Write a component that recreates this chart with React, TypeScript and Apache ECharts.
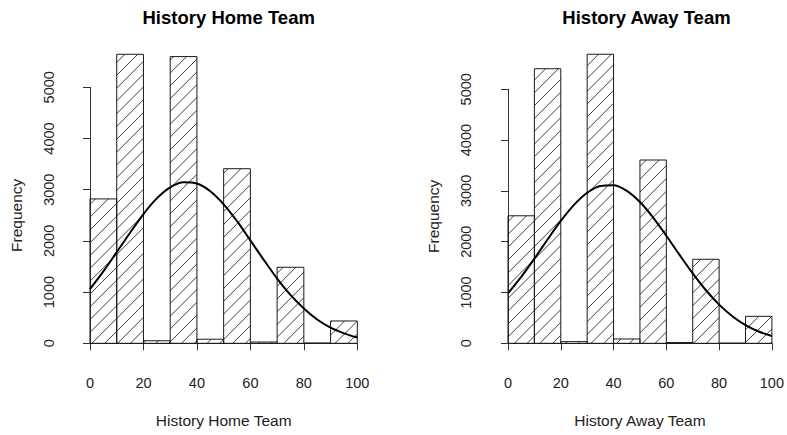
import React, { useEffect, useRef } from "react";
import * as echarts from "echarts";

// Histogram bins (width 10) shared by both panels
const binStarts = [0, 10, 20, 30, 40, 50, 60, 70, 80, 90];
const binWidth = 10;

// Bin counts
const homeCounts = [2820, 5645, 50, 5600, 80, 3410, 25, 1485, 5, 436];
const awayCounts = [2510, 5405, 33, 5690, 85, 3608, 15, 1654, 3, 531];

// Fitted normal curve, sampled every 5 points
const curveX = [0, 5, 10, 15, 20, 25, 30, 35, 40, 45, 50, 55, 60, 65, 70, 75, 80, 85, 90, 95, 100];
const homeCurve = [1060, 1405, 1780, 2160, 2525, 2830, 3045, 3145, 3120, 2970, 2715, 2385, 2010, 1630, 1265, 945, 680, 465, 305, 195, 112];
const awayCurve = [983, 1306, 1666, 2044, 2408, 2725, 2964, 3098, 3110, 3000, 2781, 2476, 2118, 1741, 1375, 1044, 761, 533, 359, 232, 144];

const titles = ["History Home Team", "History Away Team"];
const yTitle = "Frequency";

const FONT = "'Liberation Sans', Arial, Helvetica, sans-serif";
const INK = "#1a1a1a";

// panel layout: grid spans the 0..100 x 0..5000 data box
const layout = [
  { left: 90, top: 87.3, width: 267.3, height: 256, yOffset: 10, center: 223.7 },
  { left: 508, top: 89.3, width: 267, height: 254, yOffset: 10.7, center: 641.5 },
];

const HATCH_STEP = 12.8;

function hatchedBar(params: any, api: any) {
  const x0 = api.value(0);
  const x1 = api.value(1);
  const h = api.value(2);
  const pTop = api.coord([x0, h]);
  const pBot = api.coord([x1, 0]);
  const L = pTop[0];
  const T = pTop[1];
  const R = pBot[0];
  const B = pBot[1];
  const children: any[] = [];
  // 45-degree hatch lines: x + y = c
  const cStart = Math.ceil((L + T) / HATCH_STEP) * HATCH_STEP;
  for (let c = cStart; c <= R + B; c += HATCH_STEP) {
    const xa = Math.max(L, c - B);
    const xb = Math.min(R, c - T);
    if (xb - xa > 0.2) {
      children.push({
        type: "line",
        shape: { x1: xa, y1: c - xa, x2: xb, y2: c - xb },
        style: { stroke: "#2a2a2a", lineWidth: 0.9 },
      });
    }
  }
  children.push({
    type: "rect",
    shape: { x: L, y: T, width: R - L, height: B - T },
    style: { fill: "none", stroke: INK, lineWidth: 1 },
  });
  return { type: "group", children };
}

export default function App() {
  const ref = useRef<HTMLDivElement>(null);

  useEffect(() => {
    if (!ref.current) return;
    const chart = echarts.init(ref.current, undefined, { renderer: "svg" });
    const countsList = [homeCounts, awayCounts];
    const curves = [homeCurve, awayCurve];

    const option: any = {
      animation: false,
      backgroundColor: "#ffffff",
      textStyle: { fontFamily: FONT },
      title: layout.map((g, i) => ({
        text: titles[i],
        left: g.center,
        top: 3,
        textAlign: "center",
        textStyle: { fontFamily: FONT, fontSize: 18.5, fontWeight: "bold", color: "#000" },
      })),
      grid: layout.map((g) => ({ left: g.left, top: g.top, width: g.width, height: g.height })),
      xAxis: layout.map((g, i) => ({
        type: "value",
        gridIndex: i,
        min: 0,
        max: 100,
        interval: 20,
        offset: 12,
        position: "bottom",
        name: titles[i],
        nameLocation: "middle",
        nameGap: 57,
        nameTextStyle: { fontFamily: FONT, fontSize: 15.5, color: "#222" },
        axisLine: { show: true, lineStyle: { color: "#333", width: 1 } },
        axisTick: { show: true, length: 7, lineStyle: { color: "#333" } },
        axisLabel: { fontFamily: FONT, fontSize: 14.5, color: "#222", margin: 20 },
        splitLine: { show: false },
      })),
      yAxis: layout.map((g, i) => ({
        type: "value",
        gridIndex: i,
        min: 0,
        max: 5000,
        interval: 1000,
        offset: g.yOffset,
        name: yTitle,
        nameLocation: "middle",
        nameRotate: 90,
        nameGap: 56,
        nameTextStyle: { fontFamily: FONT, fontSize: 15.5, color: "#222" },
        axisLine: { show: true, lineStyle: { color: "#333", width: 1 } },
        axisTick: { show: true, length: 7, lineStyle: { color: "#333" } },
        axisLabel: {
          fontFamily: FONT,
          fontSize: 14.5,
          color: "#222",
          rotate: 90,
          margin: 24,
          formatter: (v: number) => String(v),
        },
        splitLine: { show: false },
      })),
      series: [
        ...countsList.map((counts, i) => ({
          type: "custom",
          xAxisIndex: i,
          yAxisIndex: i,
          clip: false,
          renderItem: hatchedBar,
          encode: { x: [0, 1], y: 2 },
          data: binStarts.map((b, k) => [b, b + binWidth, counts[k]]),
          silent: true,
        })),
        ...curves.map((vals, i) => ({
          type: "line",
          xAxisIndex: i,
          yAxisIndex: i,
          clip: false,
          smooth: 0.3,
          symbol: "none",
          lineStyle: { color: "#000", width: 2 },
          data: curveX.map((x, k) => [x, vals[k]]),
          silent: true,
        })),
      ],
    };
    chart.setOption(option);
    return () => chart.dispose();
  }, []);

  return (
    <div
      ref={ref}
      style={{ position: "absolute", left: 0, top: 0, width: 787, height: 435 }}
    />
  );
}
